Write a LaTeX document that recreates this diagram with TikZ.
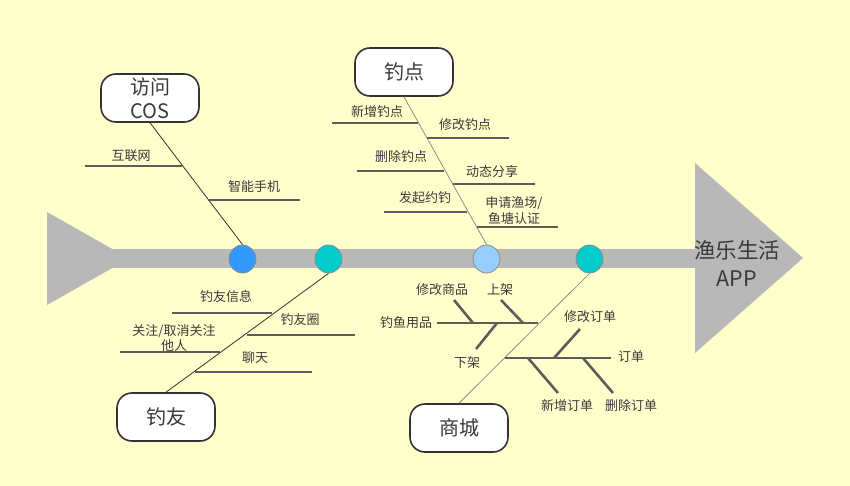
\documentclass[tikz,border=0pt]{standalone}
\usepackage{fontspec}
\setmainfont{Noto Sans CJK SC}
\usetikzlibrary{positioning, shapes.geometric, calc}

\definecolor{paper}{HTML}{FFFFCC}
\definecolor{spinegray}{HTML}{B8B8B8}
\definecolor{ink}{HTML}{3A3A3A}
\definecolor{bonegray}{HTML}{5C5C5C}
\definecolor{blueA}{HTML}{3399FF}
\definecolor{tealA}{HTML}{00CCCC}
\definecolor{blueB}{HTML}{99CCFF}

\begin{document}
\begin{tikzpicture}[
    x=1pt, y=-1pt,
    % Styles
    topic/.style={
        rectangle,
        fill=white,
        rounded corners=15pt,
        minimum width=98pt,
        minimum height=48pt,
        draw=black!80,
        line width=1.6pt,
        inner sep=0pt,
        align=center,
        text=ink,
        font=\fontsize{20}{24}\selectfont
    },
    joint/.style={
        ellipse,
        draw=black!45,
        line width=0.8pt,
        minimum width=27pt,
        minimum height=28pt,
        inner sep=0pt
    },
    lbl/.style={
        inner sep=0pt,
        align=center,
        text=ink,
        font=\fontsize{13}{15.5}\selectfont
    },
    bone/.style={
        draw=bonegray,
        line width=2.6pt
    },
    rib/.style={
        draw=black!80,
        line width=0.8pt
    },
    ribl/.style={
        draw=black!45,
        line width=0.8pt
    }
]

    % Page
    \fill[paper] (0,0) rectangle (850,486);
    \useasboundingbox (0,0) rectangle (850,486);

    % Spine
    \fill[spinegray] (47,212) -- (129,258.5) -- (47,305) -- cycle;
    \fill[spinegray] (100,249) rectangle (700,268);
    \fill[spinegray] (695,163) -- (803,258) -- (695,353) -- cycle;
    \node[inner sep=0pt, align=center, text=ink, font=\fontsize{21.5}{28}\selectfont] (app) at (737,263) {渔乐生活\\APP};

    % Joints
    \node[joint, fill=blueA] (jCos) at (242.5,259) {};
    \node[joint, fill=tealA] (jFriend) at (328.5,259) {};
    \node[joint, fill=blueB] (jSpot) at (486.5,259) {};
    \node[joint, fill=tealA] (jMall) at (589.5,259) {};

    % Topics
    \node[topic] (cos) at (150,98) {访问\\COS};
    \node[topic] (spot) at (404,72) {钓点};
    \node[topic] (friend) at (166,417) {钓友};
    \node[topic] (mall) at (459,428) {商城};

    % Ribs
    \draw[rib] (cos.south) -- (jCos.north);
    \draw[ribl] (spot.south) -- (jSpot.north);
    \draw[rib] (friend.north) -- (jFriend.south);
    \draw[ribl] (mall.north) -- (jMall.south);

    % Bones of COS
    \coordinate (netL) at (85,166);
    \coordinate (netR) at (182,166);
    \coordinate (phoneL) at (208,200);
    \coordinate (phoneR) at (300,200);
    \draw[bone] (netL) -- (netR);
    \draw[bone] (phoneL) -- (phoneR);
    \node[lbl] (net) at (131,156) {互联网};
    \node[lbl] (phone) at (254,187) {智能手机};

    % Bones of spot
    \coordinate (addSpotL) at (332,123);
    \coordinate (addSpotR) at (418,123);
    \coordinate (editSpotL) at (427,138);
    \coordinate (editSpotR) at (509,138);
    \coordinate (delSpotL) at (357,171);
    \coordinate (delSpotR) at (444,171);
    \coordinate (shareL) at (453,184);
    \coordinate (shareR) at (535,184);
    \coordinate (dateL) at (384,212);
    \coordinate (dateR) at (467,212);
    \coordinate (certL) at (477,227);
    \coordinate (certR) at (558,227);
    \draw[bone] (addSpotL) -- (addSpotR);
    \draw[bone] (editSpotL) -- (editSpotR);
    \draw[bone] (delSpotL) -- (delSpotR);
    \draw[bone] (shareL) -- (shareR);
    \draw[bone] (dateL) -- (dateR);
    \draw[bone] (certL) -- (certR);
    \node[lbl] (addSpot) at (377,112) {新增钓点};
    \node[lbl] (editSpot) at (465,125) {修改钓点};
    \node[lbl] (delSpot) at (401,157) {删除钓点};
    \node[lbl] (share) at (492,172) {动态分享};
    \node[lbl] (date) at (425,198) {发起约钓};
    \node[lbl] (cert) at (514,210.5) {申请渔场/\\鱼塘认证};

    % Bones of friend
    \coordinate (infoL) at (172,313);
    \coordinate (infoR) at (272,313);
    \coordinate (circleL) at (247,335);
    \coordinate (circleR) at (355,335);
    \coordinate (followL) at (120,352);
    \coordinate (followR) at (220,352);
    \coordinate (chatL) at (195,372);
    \coordinate (chatR) at (312,372);
    \draw[bone] (infoL) -- (infoR);
    \draw[bone] (circleL) -- (circleR);
    \draw[bone] (followL) -- (followR);
    \draw[bone] (chatL) -- (chatR);
    \node[lbl] (info) at (226,297) {钓友信息};
    \node[lbl] (circle) at (300,320) {钓友圈};
    \node[lbl] (follow) at (174,338) {关注/取消关注\\他人};
    \node[lbl] (chat) at (255,358) {聊天};

    % Bones of mall
    \coordinate (goodsL) at (437,323);
    \coordinate (goodsR) at (538,323);
    \coordinate (orderL) at (505,358);
    \coordinate (orderR) at (611,358);
    \draw[bone] (goodsL) -- (goodsR);
    \draw[bone] (orderL) -- (orderR);
    \node[lbl] (goods) at (406,323) {钓鱼用品};
    \node[lbl] (order) at (631,357) {订单};

    \coordinate (editGoodsA) at (454,300);
    \coordinate (editGoodsB) at (473,323);
    \coordinate (onShelfA) at (501,300);
    \coordinate (onShelfB) at (523,323);
    \coordinate (offShelfA) at (497,323);
    \coordinate (offShelfB) at (476,349);
    \draw[bone] (editGoodsA) -- (editGoodsB);
    \draw[bone] (onShelfA) -- (onShelfB);
    \draw[bone] (offShelfA) -- (offShelfB);
    \node[lbl] (editGoods) at (442,290) {修改商品};
    \node[lbl] (onShelf) at (500,290) {上架};
    \node[lbl] (offShelf) at (467,363) {下架};

    \coordinate (editOrderA) at (554,358);
    \coordinate (editOrderB) at (580,329);
    \coordinate (newOrderA) at (528,358);
    \coordinate (newOrderB) at (558,393);
    \coordinate (delOrderA) at (583,358);
    \coordinate (delOrderB) at (613,393);
    \draw[bone] (editOrderA) -- (editOrderB);
    \draw[bone] (newOrderA) -- (newOrderB);
    \draw[bone] (delOrderA) -- (delOrderB);
    \node[lbl] (editOrder) at (590,317) {修改订单};
    \node[lbl] (newOrder) at (567,406) {新增订单};
    \node[lbl] (delOrder) at (631,406) {删除订单};
\end{tikzpicture}
\end{document}
